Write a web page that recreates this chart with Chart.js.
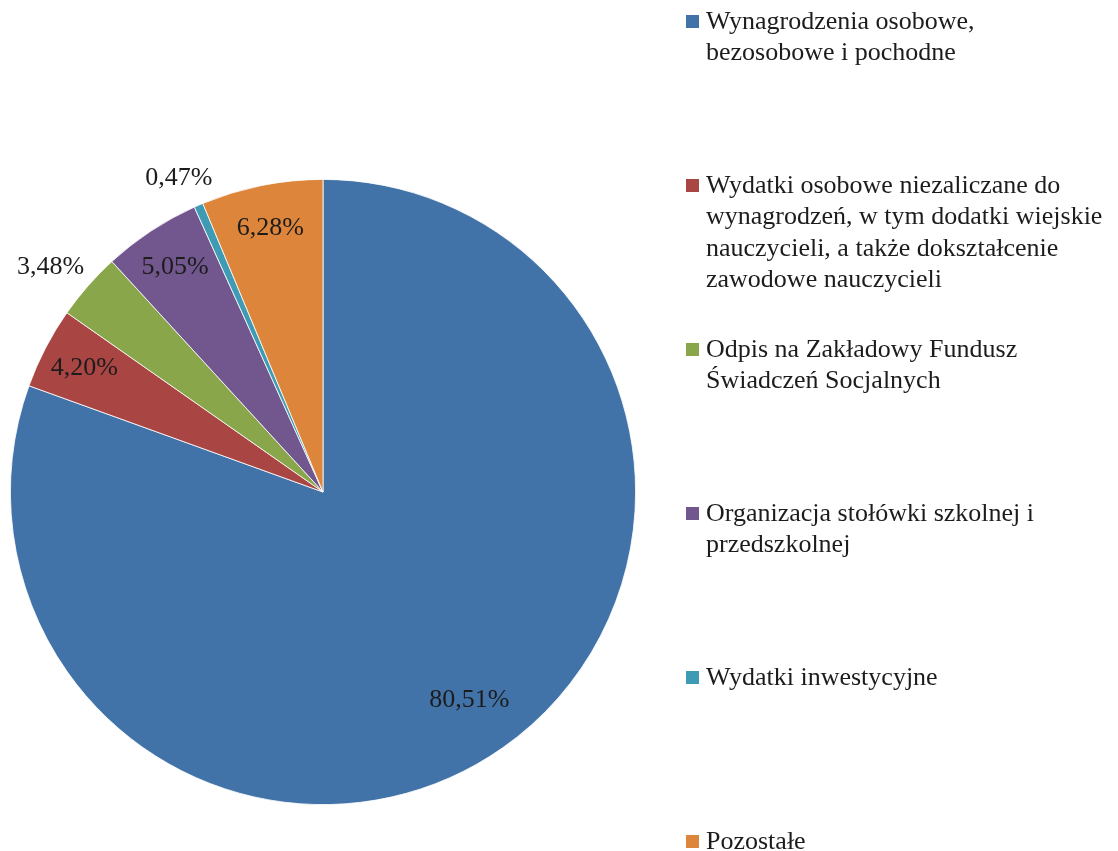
<!DOCTYPE html>
<html lang="pl">
<head>
<meta charset="UTF-8">
<title>Struktura wydatków</title>
<script src="https://cdn.jsdelivr.net/npm/chart.js"></script>
<style>
    html, body { margin: 0; padding: 0; background: #fff; }
    body { width: 1118px; height: 851px; position: relative; overflow: hidden; font-family: "Liberation Serif", "Times New Roman", serif; }
    #wykres { position: absolute; left: 0; top: 0; width: 1118px; height: 851px; }
    #legenda { position: absolute; left: 686px; top: 5px; width: 432px; }
    .pozycja { height: 164px; display: flex; align-items: flex-start; }
    .znacznik { width: 13px; height: 13px; margin-top: 10px; margin-right: 7px; flex: none; }
    .opis { font-size: 26px; line-height: 31.3px; color: #1c1c1c; white-space: pre-line; }
</style>
</head>
<body>
<div id="wykres"><canvas id="myChart"></canvas></div>
<div id="legenda"></div>

<script>
    // dane
    var kategorie = [
        'Wynagrodzenia osobowe,\nbezosobowe i pochodne',
        'Wydatki osobowe niezaliczane do\nwynagrodzeń, w tym dodatki wiejskie\nnauczycieli, a także dokształcenie\nzawodowe nauczycieli',
        'Odpis na Zakładowy Fundusz\nŚwiadczeń Socjalnych',
        'Organizacja stołówki szkolnej i\nprzedszkolnej',
        'Wydatki inwestycyjne',
        'Pozostałe'
    ];
    var udzialy = [80.51, 4.20, 3.48, 5.05, 0.47, 6.28];
    var kolory = ['#4273A8', '#A94543', '#8AA64B', '#72578F', '#3F9BB3', '#DD853B'];

    // legenda w HTML (tekst wielowierszowy)
    var legenda = document.getElementById('legenda');
    for (var i = 0; i < kategorie.length; i++) {
        legenda.innerHTML += `
        <div class="pozycja">
            <div class="znacznik" style="background:${kolory[i]}"></div>
            <div class="opis">${kategorie[i]}</div>
        </div>`;
    }

    function formatuj(v) {
        return v.toFixed(2).replace('.', ',') + '%';
    }

    // etykiety procentowe: duże wycinki w środku, małe na zewnątrz
    const etykiety = {
        id: 'etykiety',
        afterDatasetsDraw(chart) {
            const ctx = chart.ctx;
            const meta = chart.getDatasetMeta(0);
            ctx.save();
            ctx.font = '26px "Liberation Serif", serif';
            ctx.fillStyle = '#1c1c1c';
            ctx.textAlign = 'center';
            ctx.textBaseline = 'middle';
            meta.data.forEach(function (arc, idx) {
                const p = arc.getProps(['x', 'y', 'startAngle', 'endAngle', 'outerRadius'], true);
                const kat = (p.startAngle + p.endAngle) / 2;
                const v = udzialy[idx];
                const tekst = formatuj(v);
                const cos = Math.cos(kat), sin = Math.sin(kat);
                let x, y;
                if (v < 4) {
                    // poza wycinkiem, ramka tekstu dosunięta do krawędzi
                    const r = p.outerRadius + 16;
                    const w = ctx.measureText(tekst).width;
                    x = p.x + cos * r + cos * w / 2;
                    y = p.y + sin * r + sin * 13;
                } else {
                    const r = p.outerRadius * (v > 50 ? 0.815 : 0.86);
                    x = p.x + cos * r;
                    y = p.y + sin * r;
                }
                ctx.fillText(tekst, x, y);
            });
            ctx.restore();
        }
    };

    new Chart(document.getElementById('myChart'), {
        type: 'pie',
        data: {
            labels: kategorie.map(k => k.replace(/\n/g, ' ')),
            datasets: [{
                data: udzialy,
                backgroundColor: kolory,
                borderColor: '#ffffff',
                borderWidth: 0.8
            }]
        },
        options: {
            responsive: true,
            maintainAspectRatio: false,
            animation: false,
            layout: { padding: { left: 10, right: 482, top: 179, bottom: 46 } },
            plugins: {
                legend: { display: false },
                tooltip: { enabled: false }
            }
        },
        plugins: [etykiety]
    });
</script>
</body>
</html>
